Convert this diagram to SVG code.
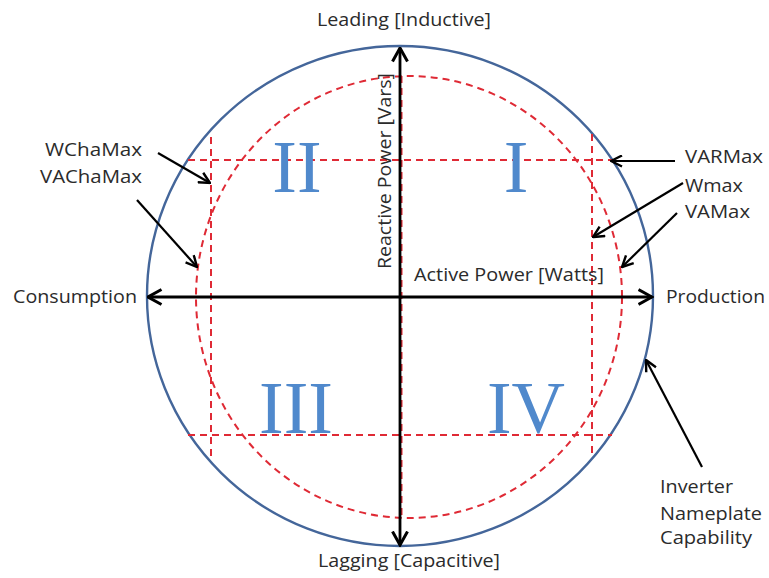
<svg xmlns="http://www.w3.org/2000/svg" width="769" height="578" viewBox="0 0 769 578">
  <style>
    .lbl { font-family: "Open Sans", "Noto Sans", "Liberation Sans", sans-serif; font-size: 18px; fill: #2b2b2b; }
    .num { font-family: "Liberation Serif", "Times New Roman", serif; font-size: 74px; fill: #5089cc; }
    .limit { fill: none; stroke: #df2a35; stroke-width: 2; stroke-dasharray: 7 5; }
    .axis { stroke: #000; stroke-width: 2.8; fill: none; }
    .ptr { stroke: #000; stroke-width: 2.2; fill: none; }
  </style>
  <defs>
    <marker id="axisHead" viewBox="0 0 16 18" refX="14.5" refY="9" markerWidth="16" markerHeight="18" markerUnits="userSpaceOnUse" orient="auto-start-reverse">
      <path d="M1,1.5 L14.5,9 L1,16.5" fill="none" stroke="#000" stroke-width="3"/>
    </marker>
    <marker id="ptrHead" viewBox="0 0 13 13" refX="12" refY="6.5" markerWidth="13" markerHeight="13" markerUnits="userSpaceOnUse" orient="auto">
      <path d="M1,1 L12,6.5 L1,12" fill="none" stroke="#000" stroke-width="2.4"/>
    </marker>
  </defs>
  <rect width="769" height="578" fill="#fff"/>

  <!-- nameplate capability circle -->
  <g id="nameplate">
    <ellipse cx="400" cy="296" rx="253" ry="250" fill="none" stroke="#44669a" stroke-width="2.4"/>
  </g>

  <!-- operating limits (dashed) -->
  <g id="limits">
    <ellipse class="limit" cx="409" cy="297" rx="213" ry="221"/>
    <line class="limit" x1="188" y1="160" x2="612" y2="160"/>
    <line class="limit" x1="188" y1="435" x2="612" y2="435"/>
    <line class="limit" x1="211" y1="137" x2="211" y2="458"/>
    <line class="limit" x1="592" y1="134" x2="592" y2="456"/>
    <line class="limit" x1="401.5" y1="76" x2="401.5" y2="518"/>
  </g>

  <!-- quadrant numerals -->
  <g id="quadrants">
    <text class="num" x="297" y="192" text-anchor="middle">II</text>
    <text class="num" x="516" y="192" text-anchor="middle">I</text>
    <text class="num" x="296" y="433" text-anchor="middle">III</text>
    <text class="num" x="526" y="433" text-anchor="middle">IV</text>
  </g>

  <!-- axes and pointers -->
  <g id="connectors">
    <line class="axis" x1="400" y1="545" x2="400" y2="48" marker-start="url(#axisHead)" marker-end="url(#axisHead)"/>
    <line class="axis" x1="148" y1="297" x2="652" y2="297" marker-start="url(#axisHead)" marker-end="url(#axisHead)"/>
    <line class="ptr" x1="158" y1="153" x2="210" y2="183" marker-end="url(#ptrHead)"/>
    <line class="ptr" x1="137" y1="200" x2="197" y2="267" marker-end="url(#ptrHead)"/>
    <line class="ptr" x1="675" y1="161" x2="611" y2="161" marker-end="url(#ptrHead)"/>
    <line class="ptr" x1="683" y1="183" x2="593" y2="237" marker-end="url(#ptrHead)"/>
    <line class="ptr" x1="677" y1="213" x2="622" y2="267" marker-end="url(#ptrHead)"/>
    <line class="ptr" x1="702" y1="467" x2="646" y2="360" marker-end="url(#ptrHead)"/>
  </g>

  <!-- axis labels -->
  <g id="axis-labels">
    <text class="lbl" x="317" y="26" textLength="174" lengthAdjust="spacingAndGlyphs">Leading [Inductive]</text>
    <text class="lbl" x="318" y="567" textLength="182" lengthAdjust="spacingAndGlyphs">Lagging [Capacitive]</text>
    <text class="lbl" x="13" y="303" textLength="124" lengthAdjust="spacingAndGlyphs">Consumption</text>
    <text class="lbl" x="666" y="303" textLength="99" lengthAdjust="spacingAndGlyphs">Production</text>
    <text class="lbl" x="414" y="281" textLength="190" lengthAdjust="spacingAndGlyphs">Active Power [Watts]</text>
    <text class="lbl" transform="translate(391 269) rotate(-90)" x="0" y="0" textLength="196" lengthAdjust="spacingAndGlyphs">Reactive Power [Vars]</text>
  </g>

  <!-- limit labels -->
  <g id="limit-labels">
    <text class="lbl" x="45" y="156" textLength="97" lengthAdjust="spacingAndGlyphs">WChaMax</text>
    <text class="lbl" x="40" y="183" textLength="102" lengthAdjust="spacingAndGlyphs">VAChaMax</text>
    <text class="lbl" x="685" y="163" textLength="78" lengthAdjust="spacingAndGlyphs">VARMax</text>
    <text class="lbl" x="685" y="192" textLength="58" lengthAdjust="spacingAndGlyphs">Wmax</text>
    <text class="lbl" x="685" y="218" textLength="65" lengthAdjust="spacingAndGlyphs">VAMax</text>
    <text class="lbl" x="660" y="493" textLength="73" lengthAdjust="spacingAndGlyphs">Inverter</text>
    <text class="lbl" x="660" y="520" textLength="102" lengthAdjust="spacingAndGlyphs">Nameplate</text>
    <text class="lbl" x="660" y="544" textLength="92" lengthAdjust="spacingAndGlyphs">Capability</text>
  </g>
</svg>
